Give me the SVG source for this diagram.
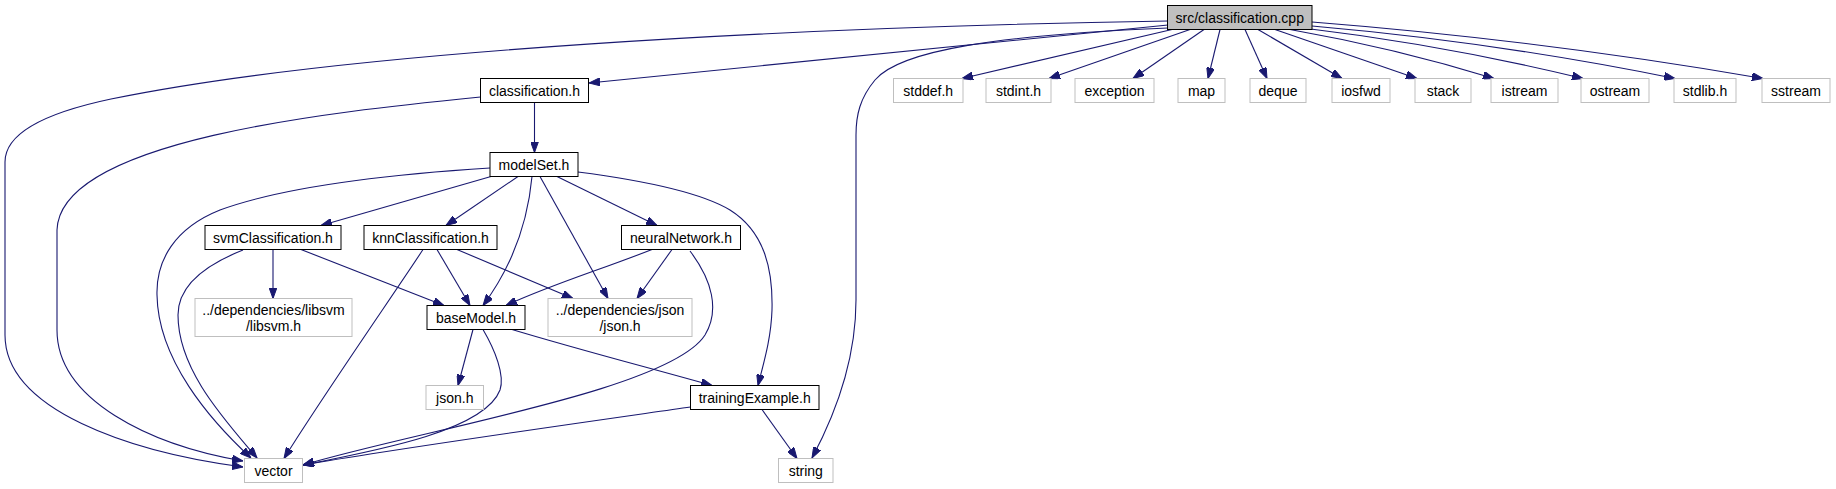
<svg xmlns="http://www.w3.org/2000/svg" width="1836" height="489" viewBox="0 0 1836 489">
<defs>
<marker id="a" markerWidth="11" markerHeight="8" refX="11" refY="4" orient="auto" markerUnits="userSpaceOnUse" viewBox="0 0 11 8"><path d="M0,0 L11,4 L0,8 z" fill="#191970" stroke="#191970" stroke-width="1"/></marker>
</defs>
<style>
.n rect{fill:#fff;stroke:#000;stroke-width:1}
.g rect{fill:#fff;stroke:#bfbfbf;stroke-width:1}
.root rect{fill:#bfbfbf;stroke:#000;stroke-width:1}
text{font-family:"Liberation Sans",Arial,Helvetica,sans-serif;font-size:14px;fill:#000;text-anchor:middle}
#edges path{fill:none;stroke:#191970;stroke-width:1.1;marker-end:url(#a)}
</style>
<rect width="1836" height="489" fill="#fff"/>
<g id="edges">
<path d="M1168,21 C800,27 350,50 111,99 C40,114 5,135 5,162 L5,335 C5,410 130,452 243,467"/>
<path d="M1168,25 C950,45 760,65 589,83"/>
<path d="M1168,28 C1000,35 900,50 875,80 C860,98 856,115 856,135 L856,300 C856,360 835,415 812,458"/>
<path d="M1172,29.5 L962,78.5"/>
<path d="M1190,29.5 L1049,78.5"/>
<path d="M1204,29.5 L1133,78.5"/>
<path d="M1220,29.5 L1208,78.5"/>
<path d="M1245,29.5 L1267,78.5"/>
<path d="M1258,29.5 L1342,78.5"/>
<path d="M1275,29.5 L1417,78.5"/>
<path d="M1290,29.5 Q1395,48 1494,78.5"/>
<path d="M1303,28 Q1445,45 1583,78.5"/>
<path d="M1312,26 Q1495,42 1675,78.5"/>
<path d="M1312,22 Q1540,40 1763,78.5"/>
<path d="M534.5,102.5 L534.5,152.5"/>
<path d="M480.5,97 C330,112 60,140 57,230 L57,330 C57,400 150,445 243,461"/>
<path d="M490,168 C380,175 280,188 220,210 C175,228 156,260 157,295 C158,360 210,420 251,458"/>
<path d="M491,176.5 L321,225.5"/>
<path d="M518,176.5 L446,225.5"/>
<path d="M532,176.5 C528,220 513,265 483,305.5"/>
<path d="M540,176.5 L608,298.5"/>
<path d="M557,176.5 L657,225.5"/>
<path d="M578,172 C640,180 700,192 730,210 C765,232 773,270 772,310 C771,340 763,365 758,385.5"/>
<path d="M273,249.5 L273,298.5"/>
<path d="M301,249.5 L444,305.5"/>
<path d="M243,250 C205,265 178,285 178,315 C178,370 225,420 257,458"/>
<path d="M437,249.5 L470,305.5"/>
<path d="M457,249.5 L573,298.5"/>
<path d="M423,249.5 C400,285 320,400 284,458.5"/>
<path d="M672,249.5 L637,298.5"/>
<path d="M652,249.5 C600,270 550,285 506,305.5"/>
<path d="M690,251 C712,280 720,310 705,335 C670,390 420,430 303,465"/>
<path d="M473,329.5 L458,385.5"/>
<path d="M483,329.5 C495,350 505,375 500,390 C485,430 380,450 303,465"/>
<path d="M512,329.5 C580,350 650,368 712,385.5"/>
<path d="M690.5,407 C600,420 400,448 303,465"/>
<path d="M762,409.5 L797,458.5"/>
</g>
<g id="n_src" class="root"><rect x="1167.5" y="5.5" width="144.5" height="24"/><text x="1239.75" y="22.5">src/classification.cpp</text></g>
<g id="n_classification_h" class="n"><rect x="480.5" y="78.5" width="108" height="24"/><text x="534.5" y="95.5">classification.h</text></g>
<g id="n_stddef" class="g"><rect x="893.5" y="78.5" width="69.5" height="24"/><text x="928.25" y="95.5">stddef.h</text></g>
<g id="n_stdint" class="g"><rect x="986" y="78.5" width="65" height="24"/><text x="1018.5" y="95.5">stdint.h</text></g>
<g id="n_exception" class="g"><rect x="1075" y="78.5" width="79" height="24"/><text x="1114.5" y="95.5">exception</text></g>
<g id="n_map" class="g"><rect x="1178" y="78.5" width="47" height="24"/><text x="1201.5" y="95.5">map</text></g>
<g id="n_deque" class="g"><rect x="1250" y="78.5" width="56" height="24"/><text x="1278" y="95.5">deque</text></g>
<g id="n_iosfwd" class="g"><rect x="1332" y="78.5" width="58" height="24"/><text x="1361" y="95.5">iosfwd</text></g>
<g id="n_stack" class="g"><rect x="1415" y="78.5" width="56" height="24"/><text x="1443" y="95.5">stack</text></g>
<g id="n_istream" class="g"><rect x="1491" y="78.5" width="67" height="24"/><text x="1524.5" y="95.5">istream</text></g>
<g id="n_ostream" class="g"><rect x="1581" y="78.5" width="68" height="24"/><text x="1615" y="95.5">ostream</text></g>
<g id="n_stdlib" class="g"><rect x="1674" y="78.5" width="62" height="24"/><text x="1705" y="95.5">stdlib.h</text></g>
<g id="n_sstream" class="g"><rect x="1762" y="78.5" width="68" height="24"/><text x="1796" y="95.5">sstream</text></g>
<g id="n_modelSet" class="n"><rect x="490" y="152.5" width="88" height="24"/><text x="534" y="169.5">modelSet.h</text></g>
<g id="n_svm" class="n"><rect x="205" y="225.5" width="136" height="24"/><text x="273" y="242.5">svmClassification.h</text></g>
<g id="n_knn" class="n"><rect x="364" y="225.5" width="133" height="24"/><text x="430.5" y="242.5">knnClassification.h</text></g>
<g id="n_nn" class="n"><rect x="621.5" y="225.5" width="119" height="24"/><text x="681" y="242.5">neuralNetwork.h</text></g>
<g id="n_libsvm" class="g"><rect x="195" y="298.5" width="157" height="38"/><text x="273.5" y="315">../dependencies/libsvm</text><text x="273.5" y="330.5">/libsvm.h</text></g>
<g id="n_baseModel" class="n"><rect x="427" y="305.5" width="98" height="24"/><text x="476" y="322.5">baseModel.h</text></g>
<g id="n_jsonbox" class="g"><rect x="548" y="298.5" width="144" height="38"/><text x="620" y="315">../dependencies/json</text><text x="620" y="330.5">/json.h</text></g>
<g id="n_json_h" class="g"><rect x="426" y="385.5" width="57.5" height="24"/><text x="454.75" y="402.5">json.h</text></g>
<g id="n_trainingExample" class="n"><rect x="690.5" y="385.5" width="128.5" height="24"/><text x="754.75" y="402.5">trainingExample.h</text></g>
<g id="n_vector" class="g"><rect x="244.5" y="458.5" width="58" height="24"/><text x="273.5" y="475.5">vector</text></g>
<g id="n_string" class="g"><rect x="778.5" y="458.5" width="54.5" height="24"/><text x="805.75" y="475.5">string</text></g>
</svg>
